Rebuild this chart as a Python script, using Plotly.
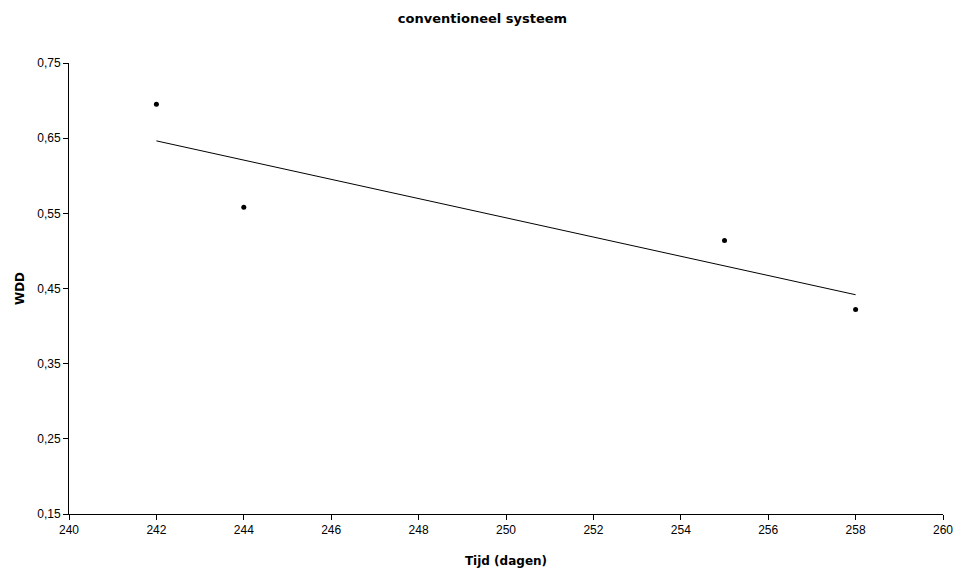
import numpy as np
import plotly.graph_objects as go

# Measurements: time in days vs WDD
tijd = [242, 244, 255, 258]
wdd = [0.695, 0.558, 0.514, 0.422]

x_ticks = list(range(240, 261, 2))
y_ticks = [0.15, 0.25, 0.35, 0.45, 0.55, 0.65, 0.75]

# Linear trendline through the measurements
slope, intercept = np.polyfit(tijd, wdd, 1)
trend_x = [min(tijd), max(tijd)]
trend_y = [slope * v + intercept for v in trend_x]

fig = go.Figure()
fig.add_trace(go.Scatter(
    x=trend_x, y=trend_y, mode="lines",
    line=dict(color="black", width=1), hoverinfo="skip", showlegend=False,
))
fig.add_trace(go.Scatter(
    x=tijd, y=wdd, mode="markers",
    marker=dict(color="black", size=5), showlegend=False,
))

tick_font = dict(family="Liberation Sans, Arial", size=12, color="black")
title_font = dict(family="DejaVu Sans, Verdana", size=12, color="black")

fig.update_layout(
    width=965, height=570,
    margin=dict(l=69, r=22, t=63, b=56),
    paper_bgcolor="white", plot_bgcolor="white",
    separators=",.",
    title=dict(text="<b>conventioneel systeem</b>", x=0.5, xanchor="center",
               y=1 - 18 / 570, yanchor="middle",
               font=dict(family="DejaVu Sans, Verdana", size=13, color="black")),
    xaxis=dict(
        range=[240, 260], tickvals=x_ticks, ticks="outside", ticklen=5,
        tickcolor="black", showline=True, linecolor="black", linewidth=1,
        showgrid=False, zeroline=False, tickfont=tick_font, automargin=False,
        title=dict(text="<b>Tijd (dagen)</b>", font=title_font, standoff=20),
    ),
    yaxis=dict(
        range=[0.15, 0.75], tickvals=y_ticks, tickformat=".2f", ticks="outside",
        ticklen=5, tickcolor="black", showline=True, linecolor="black",
        linewidth=1, showgrid=False, zeroline=False, tickfont=tick_font,
        automargin=False,
        title=dict(text="<b>WDD</b>", font=title_font, standoff=10),
    ),
)

fig.write_html("out.html")
